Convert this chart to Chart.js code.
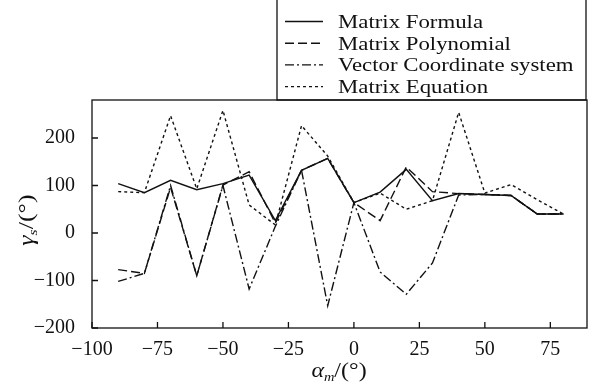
<!DOCTYPE html>
<html>
<head>
<meta charset="utf-8">
<script src="https://cdn.jsdelivr.net/npm/chart.js@4"></script>
<style>
  html, body { margin: 0; padding: 0; background: #fff; }
  #wrap { width: 592px; height: 383px; position: relative; }
</style>
</head>
<body>
<div id="wrap"><canvas id="chart"></canvas></div>
<script>
// data
const xValues = [-90, -80, -70, -60, -50, -40, -30, -20, -10, 0, 10, 20, 30, 40, 50, 60, 70, 80];
const matrixFormula = [104, 85, 111, 91, 104, 122, 26, 132, 157, 64, 86, 134, 68, 83, 81, 79, 40, 40];
const matrixPolynomial = [-77, -85, 96, -90, 101, 129, 21, 132, 157, 64, 26, 139, 87, 83, 81, 79, 40, 40];
const vectorCoordinate = [-102, -85, 100, -90, 100, -118, 14, 132, -153, 64, -82, -129, -63, 80, 81, 79, 40, 40];
const matrixEquation = [87, 85, 247, 93, 258, 59, 17, 226, 162, 64, 84, 50, 68, 254, 84, 102, 70, 40];

const seriesNames = ['Matrix Formula', 'Matrix Polynomial', 'Vector Coordinate system', 'Matrix Equation'];
const xTickValues = [-100, -75, -50, -25, 0, 25, 50, 75];
const yTickValues = [-200, -100, 0, 100, 200];

const SERIF = '"Liberation Serif", "Times New Roman", serif';
const INK = '#111';

const dashes = [[], [9, 4], [9, 3, 2, 3], [3, 3]];

function points(values) {
    return xValues.map((x, i) => ({ x: x, y: values[i] }));
}

function minusLabel(v) {
    return v < 0 ? '\u2212' + Math.abs(v) : String(v);
}

// draws centred text made of parts (for italic symbols and subscripts)
function drawParts(ctx, parts, cx, cy, stretch) {
    let w = 0;
    parts.forEach(p => { ctx.font = p.font; w += ctx.measureText(p.text).width; });
    ctx.save();
    ctx.translate(cx, cy);
    ctx.scale(stretch, 1);
    let x = -w / 2;
    ctx.textBaseline = 'alphabetic';
    ctx.textAlign = 'left';
    parts.forEach(p => {
        ctx.font = p.font;
        ctx.fillText(p.text, x, 6 + (p.dy || 0));
        x += ctx.measureText(p.text).width;
    });
    ctx.restore();
}

const framePlugin = {
    id: 'frame',
    afterDraw(chart) {
        const { ctx, chartArea: a, scales } = chart;
        ctx.save();
        ctx.strokeStyle = INK;
        ctx.lineWidth = 1.3;
        ctx.setLineDash([]);
        ctx.strokeRect(a.left, a.top, a.right - a.left, a.bottom - a.top);

        // inward ticks
        ctx.beginPath();
        scales.x.ticks.forEach(t => {
            const px = scales.x.getPixelForValue(t.value);
            ctx.moveTo(px, a.bottom);
            ctx.lineTo(px, a.bottom - 6);
        });
        scales.y.ticks.forEach(t => {
            const py = scales.y.getPixelForValue(t.value);
            ctx.moveTo(a.left, py);
            ctx.lineTo(a.left + 6, py);
        });
        ctx.stroke();

        // legend box and line samples
        const boxLeft = 277, boxRight = a.right - 1;
        ctx.strokeRect(boxLeft, -2, boxRight - boxLeft, a.top + 2);
        chart.data.datasets.forEach((ds, i) => {
            const rowY = 21.5 + i * 21.7;
            ctx.lineWidth = 1.4;
            ctx.setLineDash(ds.borderDash || []);
            ctx.beginPath();
            ctx.moveTo(285, rowY);
            ctx.lineTo(323, rowY);
            ctx.stroke();
        });
        ctx.restore();
    }
};

const textPlugin = {
    id: 'legendText',
    afterDraw(chart) {
        const ctx = chart.ctx;
        ctx.save();
        ctx.fillStyle = INK;
        ctx.textBaseline = 'alphabetic';
        chart.data.datasets.forEach((ds, i) => {
            const rowY = 21.5 + i * 21.7;
            ctx.save();
            ctx.translate(338, rowY + 6.5);
            ctx.scale(1.2, 1);
            ctx.font = '19px ' + SERIF;
            ctx.fillText(ds.label, 0, 0);
            ctx.restore();
        });

        // axis titles
        drawParts(ctx, [
            { text: '\u03b1', font: 'italic 20px ' + SERIF },
            { text: 'm', font: 'italic 12px ' + SERIF, dy: 4 },
            { text: '/(\u00b0)', font: '20px ' + SERIF }
        ], 339, 371, 1.2);

        ctx.save();
        ctx.translate(27, 220);
        ctx.rotate(-Math.PI / 2);
        drawParts(ctx, [
            { text: '\u03b3', font: 'italic 20px ' + SERIF },
            { text: 's', font: 'italic 12px ' + SERIF, dy: 4 },
            { text: '/(\u00b0)', font: '20px ' + SERIF }
        ], 0, 0, 1.3);
        ctx.restore();
        ctx.restore();
    }
};

const allSeries = [matrixFormula, matrixPolynomial, vectorCoordinate, matrixEquation];

new Chart(document.getElementById('chart'), {
    type: 'line',
    data: {
        datasets: allSeries.map((values, i) => ({
            label: seriesNames[i],
            data: points(values),
            borderColor: INK,
            borderWidth: 1.4,
            borderDash: dashes[i],
            pointRadius: 0,
            fill: false,
            tension: 0
        }))
    },
    options: {
        responsive: true,
        maintainAspectRatio: false,
        animation: false,
        layout: { padding: { top: 100, right: 5, left: 0, bottom: 0 } },
        plugins: {
            legend: { display: false },
            tooltip: { enabled: false }
        },
        scales: {
            x: {
                type: 'linear',
                min: -100,
                max: 89,
                grid: { display: false },
                border: { display: false },
                afterBuildTicks: scale => { scale.ticks = xTickValues.map(v => ({ value: v })); },
                afterFit: scale => { scale.height = 55; },
                ticks: {
                    color: INK,
                    padding: 2,
                    maxRotation: 0,
                    autoSkip: false,
                    font: { family: SERIF, size: 20 },
                    callback: minusLabel
                }
            },
            y: {
                min: -200,
                max: 280,
                grid: { display: false },
                border: { display: false },
                afterBuildTicks: scale => { scale.ticks = yTickValues.map(v => ({ value: v })); },
                afterFit: scale => { scale.width = 92; },
                ticks: {
                    color: INK,
                    padding: 9,
                    autoSkip: false,
                    font: { family: SERIF, size: 20 },
                    callback: minusLabel
                }
            }
        }
    },
    plugins: [framePlugin, textPlugin]
});
</script>
</body>
</html>
